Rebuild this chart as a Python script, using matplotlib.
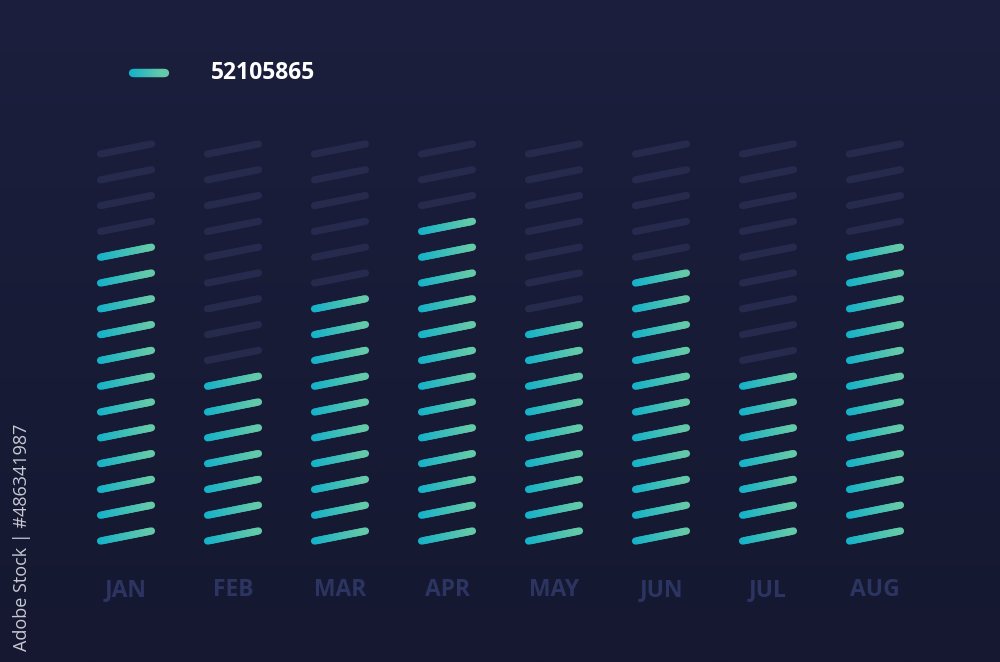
import numpy as np
import matplotlib
matplotlib.use('Agg')
import matplotlib.pyplot as plt
from matplotlib.collections import LineCollection
from matplotlib.colors import LinearSegmentedColormap

months = ['JAN', 'FEB', 'MAR', 'APR', 'MAY', 'JUN', 'JUL', 'AUG']
active = [12, 7, 10, 13, 9, 11, 7, 12]   # lit segments per month
slots = 16                                # segments per column
legend_value = '52105865'

bg_top = '#1c1f3d'
bg_bottom = '#151830'
dim_color = '#262a4d'
label_color = '#2c3562'
grad = LinearSegmentedColormap.from_list('teal', ['#15b2c9', '#62c9a9'])


def draw_segment(ax, x0, y0, x1, y1, lit, lw=5.2):
    if not lit:
        ax.plot([x0, x1], [y0, y1], color=dim_color, lw=lw,
                solid_capstyle='round', zorder=2)
        return
    n = 24
    xs = np.linspace(x0, x1, n + 1)
    ys = np.linspace(y0, y1, n + 1)
    pts = np.array([xs, ys]).T.reshape(-1, 1, 2)
    segs = np.concatenate([pts[:-1], pts[1:]], axis=1)
    lc = LineCollection(segs, colors=grad(np.linspace(0, 1, n)),
                        linewidths=lw, capstyle='round', zorder=3)
    ax.add_collection(lc)


fig = plt.figure(figsize=(10, 6.62), dpi=100)
ax = fig.add_axes([0, 0, 1, 1])

# x in column units (col 0 at 126px, step 107px); y in slot units (slot 0 at 536px, step 25.8px)
x_lo, x_hi = -126 / 107, (1000 - 126) / 107
y_lo, y_hi = (536 - 662) / 25.8, 536 / 25.8
ax.set_xlim(x_lo, x_hi)
ax.set_ylim(y_lo, y_hi)
ax.axis('off')

# background gradient
g = np.linspace(0, 1, 256).reshape(-1, 1)
bg = LinearSegmentedColormap.from_list('bg', [bg_top, bg_bottom])
ax.imshow(g, cmap=bg, extent=[x_lo, x_hi, y_lo, y_hi], aspect='auto',
          origin='upper', zorder=0)

half_w = 0.238
rise = 0.195
for i, (m, n_on) in enumerate(zip(months, active)):
    for j in range(slots):
        draw_segment(ax, i - half_w, j - rise, i + half_w, j + rise, j < n_on)
    ax.text(i, -2.09, m, color=label_color, fontsize=16.5, fontweight='bold',
            family='Open Sans', ha='center', va='center', zorder=4)

# legend
draw_segment(ax, 0.215 - 0.145, 17.95, 0.215 + 0.145, 17.95, True, lw=6)
ax.text(0.794, 17.95, legend_value, color='white', fontsize=16.5, fontweight='bold',
        family='Open Sans', ha='left', va='center', zorder=4)

# stock id along the left edge
fig.text(0.022, 1 - 424 / 662, 'Adobe Stock | #486341987', color='#c9cad4',
         fontsize=13, family='Open Sans', rotation=90,
         rotation_mode='anchor', ha='right', va='center')

fig.savefig('out.png', dpi=100)
